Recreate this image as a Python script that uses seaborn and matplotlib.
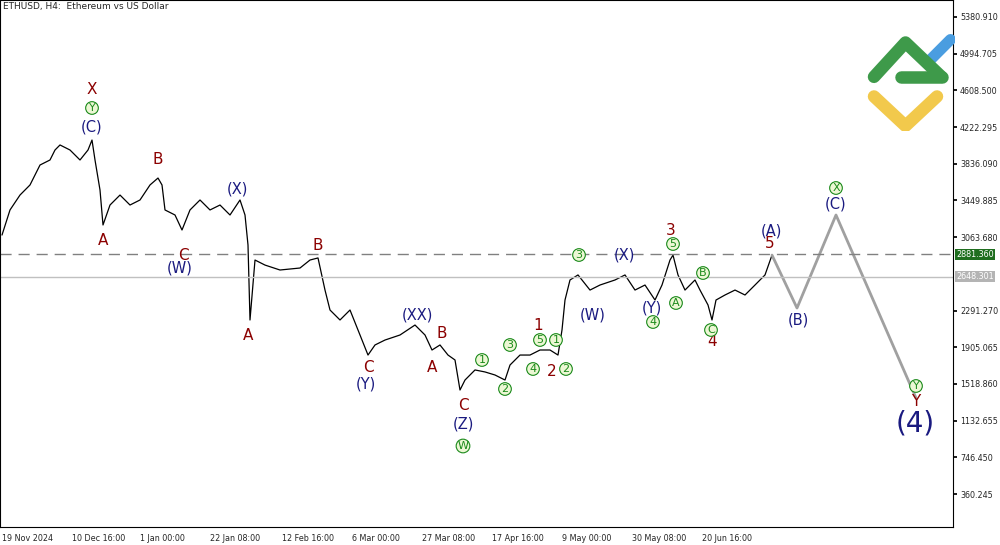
import matplotlib
matplotlib.use("Agg")
import matplotlib.pyplot as plt
import seaborn as sns
import pandas as pd

# price path (bar position, price)
bar = [2,10,20,30,40,50,55,60,70,80,88,92,95,100,103,110,120,130,140,150,158,162,165,175,182,190,200,210,220,230,240,245,248,250,255,265,280,300,310,318,325,330,340,350,360,368,375,385,400,415,425,432,440,448,455,460,465,475,485,495,505,510,520,530,540,550,558,562,565,570,578,590,600,615,625,635,645,655,662,670,673,678,685,695,700,708,712,716,725,735,745,755,765,772]
price = [3086,3350,3507,3613,3823,3876,3981,4034,3981,3876,3981,4086,3876,3560,3192,3402,3507,3402,3455,3613,3686,3613,3350,3297,3139,3350,3455,3350,3402,3297,3455,3297,2981,2192,2823,2770,2718,2739,2823,2845,2507,2297,2192,2297,2034,1823,1929,1981,2034,2139,2034,1876,1929,1823,1771,1455,1560,1666,1645,1613,1560,1718,1823,1823,1876,1876,1823,2087,2402,2613,2666,2507,2560,2613,2666,2507,2560,2402,2560,2823,2875,2666,2507,2613,2507,2350,2192,2402,2455,2507,2455,2560,2666,2875]
proj_bar = [772,797,836,916]
proj_price = [2875,2318,3297,1371]
tick_pos = [2,72,140,210,282,352,422,492,562,632,702]
tick_lab = ["19 Nov 2024","10 Dec 16:00","1 Jan 00:00","22 Jan 08:00","12 Feb 16:00","6 Mar 00:00","27 Mar 08:00","17 Apr 16:00","9 May 00:00","30 May 08:00","20 Jun 16:00"]
yticks = [5380.910,4994.705,4608.500,4222.295,3836.090,3449.885,3063.680,2291.270,1905.065,1518.860,1132.655,746.450,360.245]
level_dash = 2881.360
level_cur = 2648.301

def py(y):
    return 5380.91 - (y - 17) * 10.525

red_lbl = [("X",92,90),("B",158,160),("A",103,240),("C",183,255),("A",248,336),("B",318,246),("C",368,368),("B",442,333),("A",432,367),("C",463,405),("1",538,325),("2",552,372),("3",671,230),("5",770,244),("4",712,342),("Y",916,402)]
navy_lbl = [("(C)",92,127),("(W)",180,268),("(X)",237,189),("(Y)",366,384),("(XX)",417,315),("(Z)",463,424),("(W)",593,315),("(X)",624,255),("(Y)",652,308),("(A)",771,231),("(B)",798,320),("(C)",836,204)]
green_lbl = [("Y",92,108),("W",463,446),("1",482,360),("2",505,389),("3",510,345),("4",533,369),("5",540,340),("1",556,340),("2",566,369),("3",579,255),("4",653,322),("5",673,244),("A",676,303),("B",703,273),("C",711,330),("X",836,188),("Y",916,386)]

sns.set_theme(style="white")
plt.rcParams['font.family'] = ['DejaVu Sans']
fig = plt.figure(figsize=(10, 5.45), dpi=100)
ax = fig.add_axes([0.0, 18/545, 0.953, 527/545])
df = pd.DataFrame({"bar": bar, "price": price})
sns.lineplot(data=df, x="bar", y="price", color="black", lw=0.9, ax=ax)
sns.lineplot(x=proj_bar, y=proj_price, color="#a0a0a0", lw=2, ax=ax)
ax.axhline(level_dash, color="#808080", ls=(0, (8, 5)), lw=1)
ax.axhline(level_cur, color="#c0c0c0", lw=1)
ax.set_xlim(0, 953)
ax.set_ylim(py(527), py(0))
ax.yaxis.tick_right()
ax.set_yticks(yticks)
ax.set_yticklabels([f"{v:.3f}" for v in yticks], fontsize=5.8)
ax.set_xticks(tick_pos)
ax.set_xticklabels(tick_lab, fontsize=5.8, ha="left")
ax.tick_params(length=3, color="black", pad=2)
ax.set_xlabel(""); ax.set_ylabel("")
for s in ax.spines.values():
    s.set_color("black"); s.set_linewidth(0.8)
ax.text(956, level_dash, "2881.360", fontsize=5.8, color="white", va="center", ha="left",
        bbox=dict(boxstyle="square,pad=0.15", fc="#1f6e1f", ec="none"), clip_on=False)
ax.text(956, level_cur, "2648.301", fontsize=5.8, color="white", va="center", ha="left",
        bbox=dict(boxstyle="square,pad=0.15", fc="#b4b4b4", ec="none"), clip_on=False)
ax.text(3, py(7), "ETHUSD, H4:  Ethereum vs US Dollar", fontsize=6.5, va="center")

for t, x, y in red_lbl:
    ax.text(x, py(y), t, color="#8b0000", fontsize=11, ha="center", va="center")
for t, x, y in navy_lbl:
    ax.text(x, py(y), t, color="#1a1a80", fontsize=10.5, ha="center", va="center")
ax.text(915, py(423), "(4)", color="#1a1a80", fontsize=20, ha="center", va="center")
for t, x, y in green_lbl:
    ax.text(x, py(y), t, color="#1a8a1a", fontsize=8, ha="center", va="center",
            bbox=dict(boxstyle="circle,pad=0.12", fc="#ecf7d4", ec="#1a8a1a", lw=0.8))

# logo
la = fig.add_axes([0.865, 0.76, 0.09, 0.18]); la.set_xlim(0, 10); la.set_ylim(0, 10); la.axis("off")
la.plot([1, 4.5, 8], [3.5, 0.5, 3.5], color="#f2c94c", lw=9, solid_capstyle="round")
la.plot([7, 9.5], [7, 9.3], color="#4a9de0", lw=8, solid_capstyle="round")
la.plot([1, 4.5, 8.5], [5.5, 9, 5.5], color="#3e9a4a", lw=9, solid_capstyle="round")
la.plot([4, 8.5], [5.5, 5.5], color="#3e9a4a", lw=9, solid_capstyle="round")
fig.savefig("out.png", dpi=100)
